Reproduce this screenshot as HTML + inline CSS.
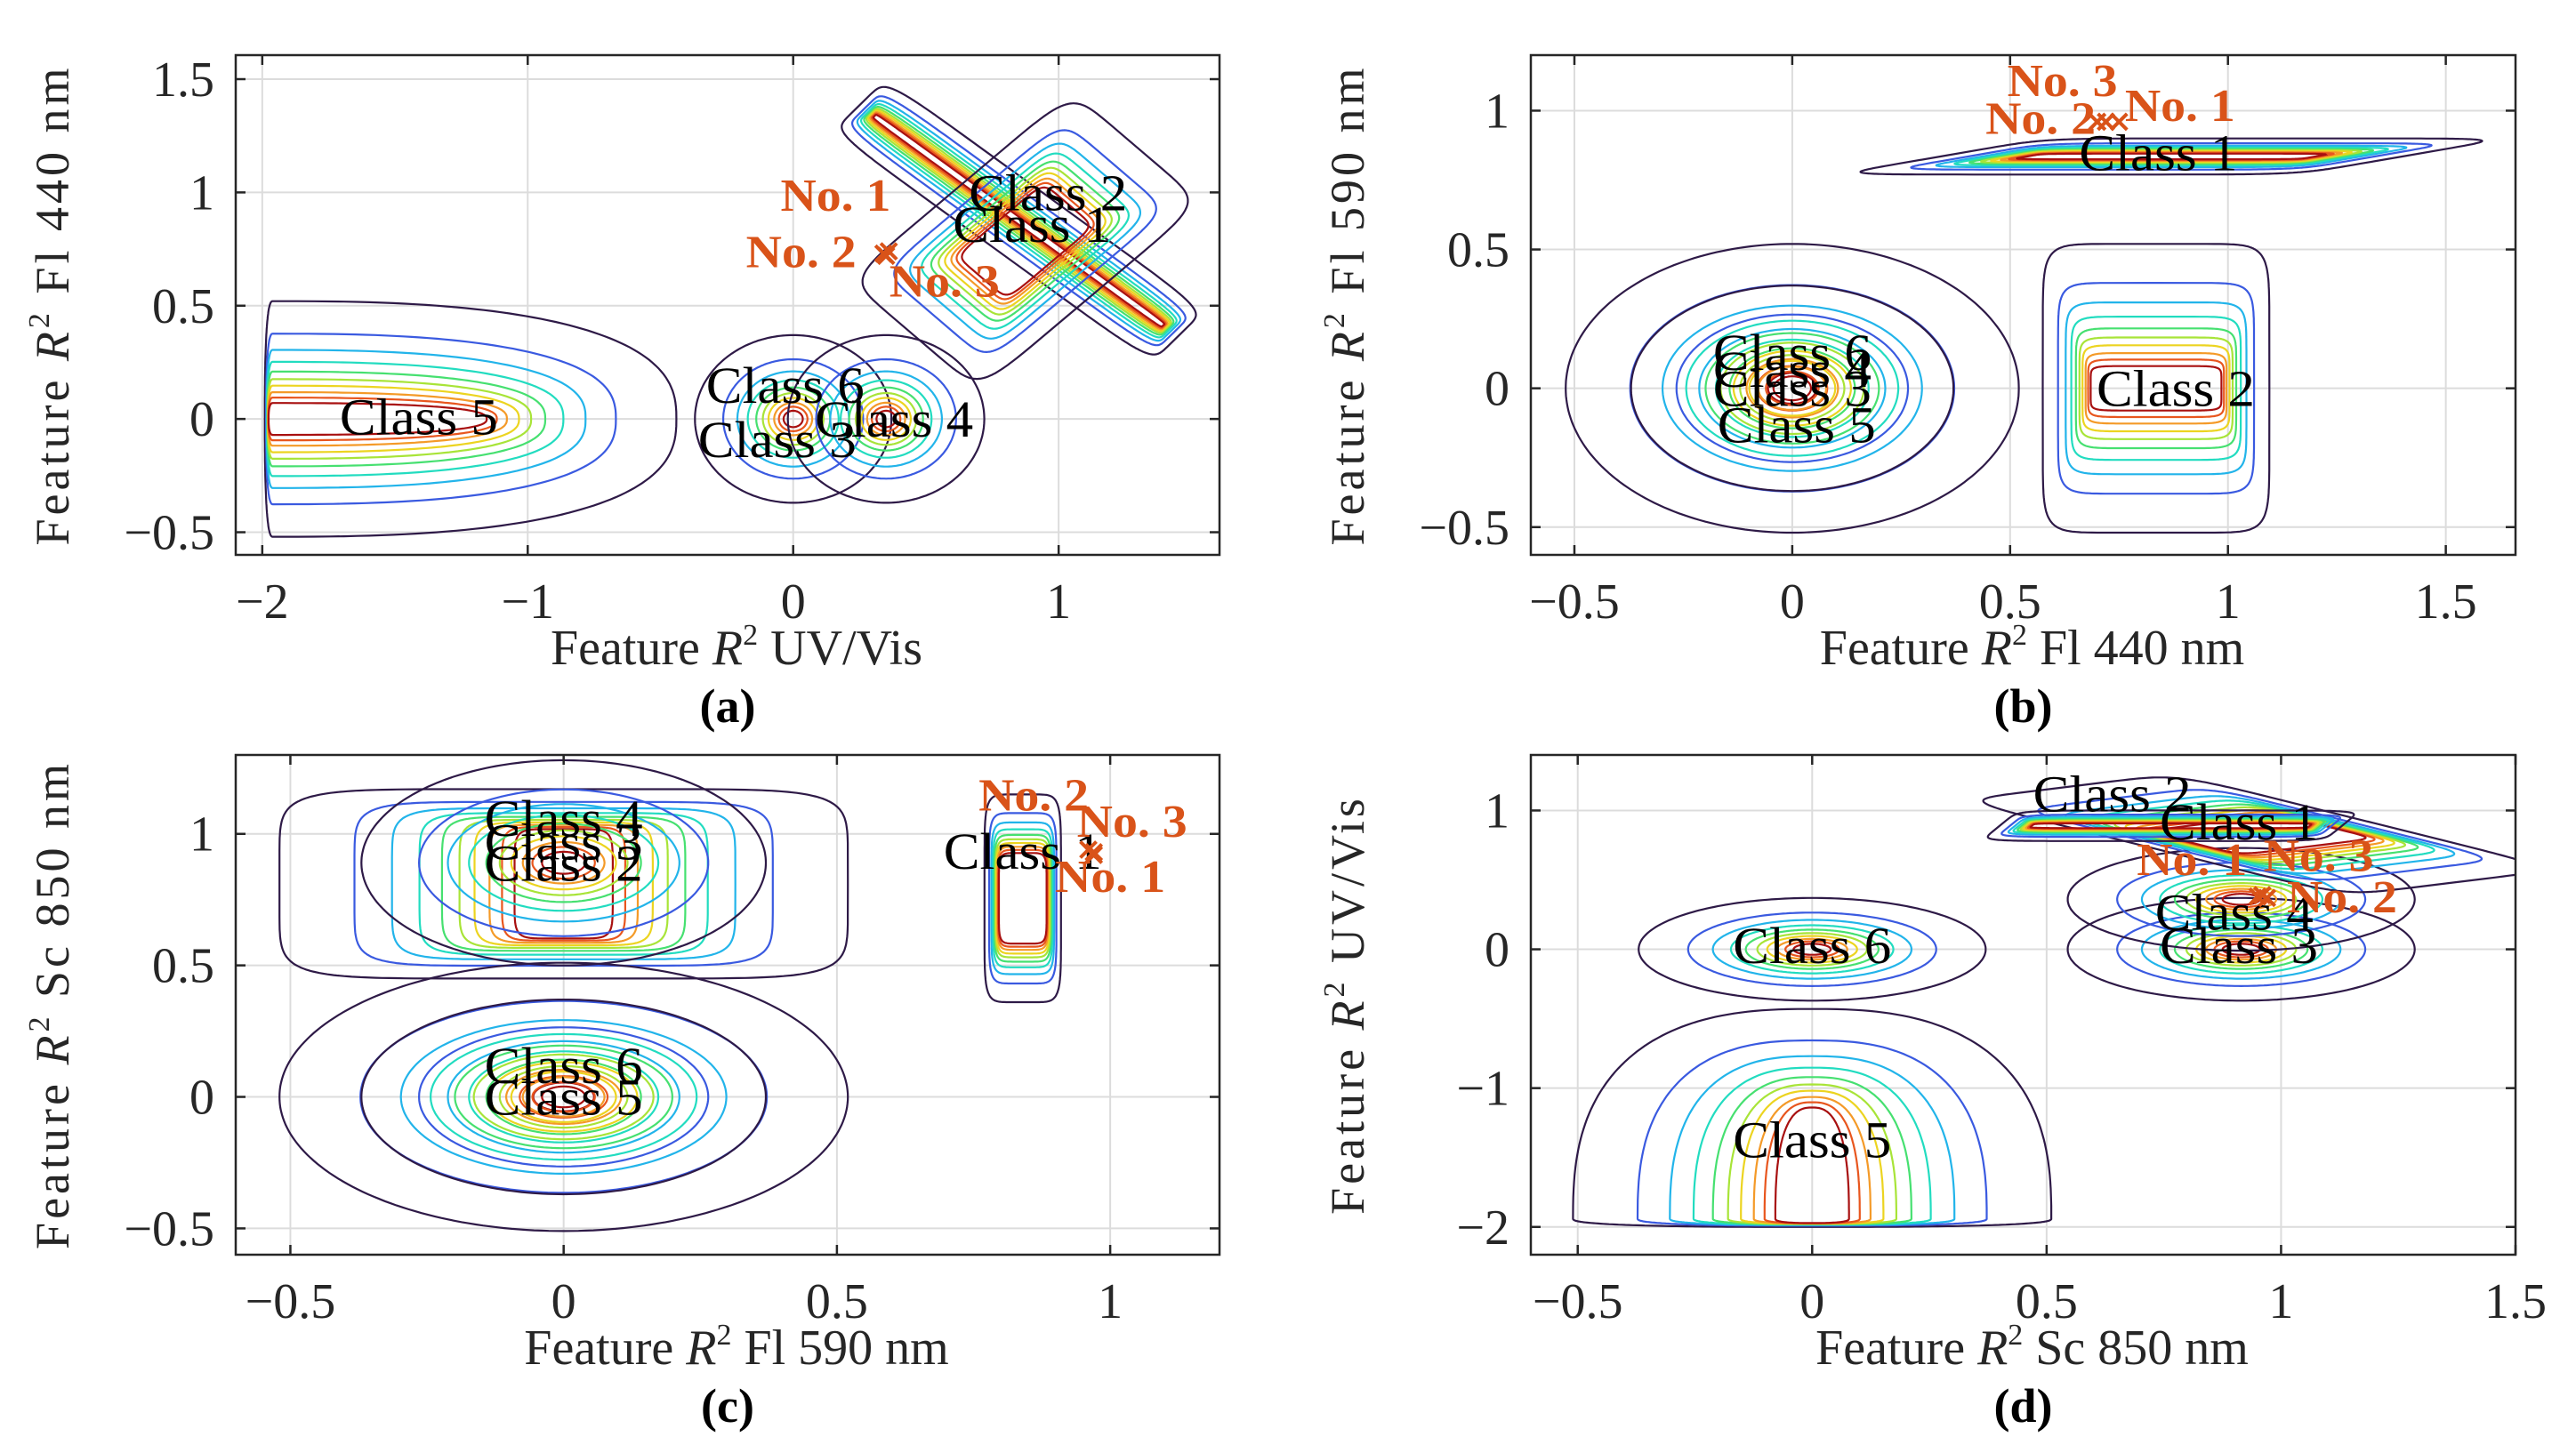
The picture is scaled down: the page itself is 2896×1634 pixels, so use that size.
<!DOCTYPE html>
<html><head><meta charset="utf-8"><style>
html,body{margin:0;padding:0;background:#fff;}
svg{display:block;}
text{font-family:"Liberation Serif","DejaVu Serif",serif;}
</style></head><body>
<svg id="fig" width="2896" height="1634" viewBox="0 0 2896 1634" xmlns="http://www.w3.org/2000/svg"></svg>
<script>
// ---------- data ----------
const levelT = [0, 0.3, 0.45, 0.56, 0.65, 0.72, 0.78, 0.84, 0.89, 0.94];
const levelColors = ['#2e1a47','#3a5ae0','#22b4ea','#22dcc0','#46e070','#a8e438','#ecd420','#f49a28','#e8561e','#a81010'];

const panelIds = ['a','b','c','d'];
const xTicks = {a:[-2,-1,0,1], b:[-0.5,0,0.5,1,1.5], c:[-0.5,0,0.5,1], d:[-0.5,0,0.5,1,1.5]};
const yTicks = {a:[-0.5,0,0.5,1,1.5], b:[-0.5,0,0.5,1], c:[-0.5,0,0.5,1], d:[-2,-1,0,1]};
const xLabels = {a:'UV/Vis', b:'Fl 440 nm', c:'Fl 590 nm', d:'Sc 850 nm'};
const yLabels = {a:'Fl 440 nm', b:'Fl 590 nm', c:'Sc 850 nm', d:'UV/Vis'};

// class contour shapes: [cx, cy, ux, uy, vx, vy, p, minU, minV, uNeg, vNeg]
const shapesA = [
  [-1.96,0, 1.52,0, 0,0.52, 2.6, 0.5,0.08, 0.02,1],
  [0,0, 0.37,0, 0,0.37, 2, 0.04,0.04, 1,1],
  [0.35,0, 0.37,0, 0,0.37, 2, 0.04,0.04, 1,1],
  [0.85,0.875, 0.6,-0.51, 0.1,0.115, 8, 0.9,0.03, 1,1],
  [0.874,0.785, 0.42,0.415, 0.245,-0.245, 8, 0.35,0.35, 1,1]
];
const shapesB = [
  [0,0, 0.52,0, 0,0.52, 2, 0.05,0.05, 1,1],
  [0,0, 0.37,0, 0,0.37, 2, 0.06,0.06, 1,1],
  [0.835,0, 0.26,0, 0,0.52, 9, 0.55,0.1, 1,1],
  [0.87,0.835, 0.53,0, 0.24,0.065, 8, 0.6,0.1, 1,1]
];
const shapesC = [
  [0,0.81, 0.52,0, 0,0.36, 7, 0.12,0.55, 1,1],
  [0,0.89, 0.37,0, 0,0.39, 2, 0.05,0.05, 1,1],
  [0,0, 0.52,0, 0,0.51, 2, 0.05,0.05, 1,1],
  [0,0, 0.37,0, 0,0.37, 2, 0.05,0.05, 1,1],
  [0.84,0.755, 0.07,0, 0,0.395, 7, 0.6,0.4, 1,1]
];
const shapesD = [
  [0,0, 0.37,0, 0,0.37, 2, 0.05,0.05, 1,1],
  [0.915,0, 0.37,0, 0,0.37, 2, 0.05,0.05, 1,1],
  [0.915,0.36, 0.37,0, 0,0.37, 2, 0.05,0.05, 1,1],
  [0,-1.94, 0.51,0, 0,1.51, 2.6, 0.1,0.5, 1,0.04],
  [0.955,0.825, 0.23,0.095, -0.41,0.345, 8, 0.6,0.2, 1,1],
  [0.765,0.89, 0.365,0, 0.04,0.11, 8, 0.8,0.1, 1,1]
];
const shapes = {a:shapesA, b:shapesB, c:shapesC, d:shapesD};

// class text labels: [text, x, y]
const classLabels = {
  a:[['Class 5',-1.41,0.01],['Class 6',-0.03,0.15],['Class 3',-0.06,-0.09],['Class 4',0.38,0],['Class 2',0.96,1.0],['Class 1',0.9,0.86]],
  b:[['Class 6',0,0.13],['Class 4',0,0.07],['Class 3',0,0],['Class 5',0.01,-0.13],['Class 2',0.88,0],['Class 1',0.84,0.85]],
  c:[['Class 4',0,1.06],['Class 3',0,0.97],['Class 2',0,0.89],['Class 6',0,0.12],['Class 5',0,0],['Class 1',0.84,0.935]],
  d:[['Class 2',0.64,1.12],['Class 1',0.91,0.92],['Class 4',0.9,0.27],['Class 3',0.91,0.03],['Class 6',0,0.03],['Class 5',0,-1.37]]
};
// sample markers: [x, y]
const markers = {
  a:[[0.34,0.73],[0.35,0.72],[0.36,0.74]],
  b:[[0.70,0.96],[0.72,0.96],[0.75,0.96]],
  c:[[0.97,0.93],[0.96,0.94],[0.97,0.92]],
  d:[[0.95,0.38],[0.96,0.39],[0.97,0.37]]
};
const markerLabels = {
  a:[['No. 1',0.16,0.99],['No. 2',0.03,0.74],['No. 3',0.57,0.61]],
  b:[['No. 3',0.62,1.11],['No. 2',0.57,0.975],['No. 1',0.89,1.02]],
  c:[['No. 2',0.86,1.15],['No. 3',1.04,1.05],['No. 1',1.0,0.84]],
  d:[['No. 1',0.81,0.65],['No. 3',1.08,0.68],['No. 2',1.13,0.38]]
};

// ---------- layout ----------
const layout = {
  a:{x0:265,x1:1371,y0:62,y1:624, xr:[-2.1,1.606], yr:[-0.6,1.606]},
  b:{x0:1721,x1:2828,y0:62,y1:624, xr:[-0.6,1.66], yr:[-0.6,1.2]},
  c:{x0:265,x1:1371,y0:849,y1:1411, xr:[-0.6,1.2], yr:[-0.6,1.3]},
  d:{x0:1721,x1:2828,y0:849,y1:1411, xr:[-0.6,1.5], yr:[-2.2,1.4]}
};
const NS='http://www.w3.org/2000/svg';
const svg=document.getElementById('fig');
function el(tag,attrs,parent){const e=document.createElementNS(NS,tag);for(const k in attrs)e.setAttribute(k,attrs[k]);(parent||svg).appendChild(e);return e;}
function fmt(v){return (v<0?'\u2212':'')+String(Math.abs(v));}

panelIds.forEach(function(id){
  const L=layout[id];
  const sx=v=>L.x0+(v-L.xr[0])/(L.xr[1]-L.xr[0])*(L.x1-L.x0);
  const sy=v=>L.y1-(v-L.yr[0])/(L.yr[1]-L.yr[0])*(L.y1-L.y0);
  const g=el('g',{});
  
  
  el('clipPath',{id:'clip'+id},g).appendChild((()=>{const r=document.createElementNS(NS,'rect');r.setAttribute('x',L.x0);r.setAttribute('y',L.y0);r.setAttribute('width',L.x1-L.x0);r.setAttribute('height',L.y1-L.y0);return r;})());
  xTicks[id].forEach(function(t){
    const l=el('line',{x1:sx(t),x2:sx(t),y1:L.y0,y2:L.y1,stroke:'#dcdcdc','stroke-width':2},g);
    
    
  });
  yTicks[id].forEach(function(t){
    const l=el('line',{x1:L.x0,x2:L.x1,y1:sy(t),y2:sy(t),stroke:'#dcdcdc','stroke-width':2},g);
    
    
  });
  const cg=el('g',{'clip-path':'url(#clip'+id+')'},g);
  
  
  shapes[id].forEach(function(s){
    const [cx,cy,ux,uy,vx,vy,p,minU,minV,uNeg,vNeg]=s;
    levelT.forEach(function(t,k){
      const su=1-t*(1-minU), sv=1-t*(1-minV);
      let d='';
      for(let i=0;i<=240;i++){
        const th=i/240*2*Math.PI, c=Math.cos(th), sn=Math.sin(th);
        let X=Math.sign(c)*Math.pow(Math.abs(c),2/p), Y=Math.sign(sn)*Math.pow(Math.abs(sn),2/p);
        if(X<0)X*=uNeg; if(Y<0)Y*=vNeg;
        const px=cx+su*X*ux+sv*Y*vx, py=cy+su*X*uy+sv*Y*vy;
        d+=(i?'L':'M')+sx(px).toFixed(1)+' '+sy(py).toFixed(1);
      }
      const path=el('path',{d:d+'Z',fill:'none',stroke:levelColors[k],'stroke-width':2.2},cg);
      
      
    });
  });
  classLabels[id].forEach(function(c){
    const t=el('text',{x:sx(c[1]),y:sy(c[2])+20,'text-anchor':'middle','font-size':58,fill:'#000',textLength:178,lengthAdjust:'spacingAndGlyphs'},g);
    t.textContent=c[0];
    
    
  });
  markers[id].forEach(function(m){
    const x=sx(m[0]),y=sy(m[1]);
    const p=el('path',{d:'M'+(x-9)+' '+(y-9)+'L'+(x+9)+' '+(y+9)+'M'+(x-9)+' '+(y+9)+'L'+(x+9)+' '+(y-9),stroke:'#d95319','stroke-width':4},g);
    
    
  });
  markerLabels[id].forEach(function(m){
    const t=el('text',{x:sx(m[1]),y:sy(m[2])+18,'text-anchor':'middle','font-size':52,'font-weight':'bold',fill:'#d95319',textLength:124,lengthAdjust:'spacingAndGlyphs'},g);
    t.textContent=m[0];
    
    
  });
  const box=el('rect',{x:L.x0,y:L.y0,width:L.x1-L.x0,height:L.y1-L.y0,fill:'none',stroke:'#262626','stroke-width':2.5},g);
  
  
  xTicks[id].forEach(function(t){
    const x=sx(t);
    el('line',{x1:x,x2:x,y1:L.y1,y2:L.y1-11,stroke:'#262626','stroke-width':2.5},g);
    el('line',{x1:x,x2:x,y1:L.y0,y2:L.y0+11,stroke:'#262626','stroke-width':2.5},g);
    const tx=el('text',{x:x,y:L.y1+71,'text-anchor':'middle','font-size':56,fill:'#262626'},g);
    tx.textContent=fmt(t);
    
    
  });
  yTicks[id].forEach(function(t){
    const y=sy(t);
    el('line',{x1:L.x0,x2:L.x0+11,y1:y,y2:y,stroke:'#262626','stroke-width':2.5},g);
    el('line',{x1:L.x1,x2:L.x1-11,y1:y,y2:y,stroke:'#262626','stroke-width':2.5},g);
    const ty=el('text',{x:L.x0-24,y:y+19,'text-anchor':'end','font-size':56,fill:'#262626'},g);
    ty.textContent=fmt(t);
    
    
  });
  const cxm=(L.x0+L.x1)/2;
  const xt=el('text',{x:cxm+10,y:L.y1+123,'text-anchor':'middle','font-size':56,fill:'#262626'},g);
  xt.innerHTML='Feature <tspan font-style="italic">R</tspan><tspan font-size="34" dy="-22">2</tspan><tspan dy="22"> '+xLabels[id]+'</tspan>';
  
  
  const cym=(L.y0+L.y1)/2;
  const yx=L.x0-188;
  const yt=el('text',{x:yx,y:cym,'text-anchor':'middle','font-size':54,fill:'#262626',transform:'rotate(-90 '+yx+' '+cym+')','letter-spacing':4},g);
  yt.innerHTML='Feature <tspan font-style="italic">R</tspan><tspan font-size="34" dy="-22">2</tspan><tspan dy="22"> '+yLabels[id]+'</tspan>';
  
  
  const pl=el('text',{x:cxm+0,y:L.y1+188,'text-anchor':'middle','font-size':54,'font-weight':'bold',fill:'#000'},g);
  pl.textContent='('+id+')';
  
  
});
</script>
</body></html>
